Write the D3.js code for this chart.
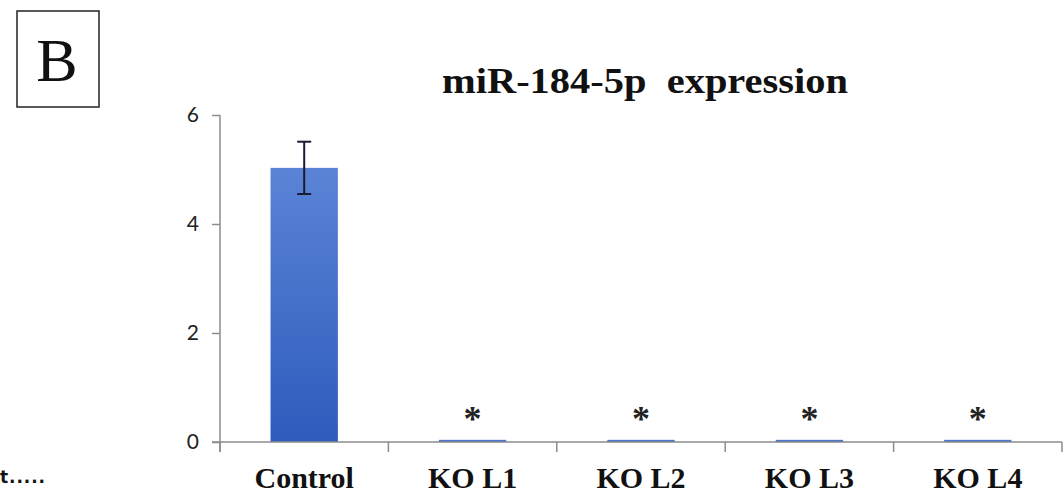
<!DOCTYPE html>
<html><head><meta charset="utf-8">
<script src="https://cdn.jsdelivr.net/npm/d3@7"></script>
<style>html,body{margin:0;padding:0;background:#fff;}svg{display:block;}</style>
</head><body>
<svg id="chart" width="1064" height="495"></svg>
<script>
const categories = ["Control", "KO L1", "KO L2", "KO L3", "KO L4"];
const values = [5.03, 0.04, 0.04, 0.04, 0.04];
const errors = [0.48, 0, 0, 0, 0];
const significance = ["", "*", "*", "*", "*"];
const yTicks = [0, 2, 4, 6];
const titleText = "miR-184-5p  expression";
const panelLabel = "B";

const svg = d3.select("#chart");
const x = d3.scaleBand().domain(categories).range([220, 1062]).paddingInner(0.6).paddingOuter(0.3);
const y = d3.scaleLinear().domain([0, 6]).range([442, 115]);

const defs = svg.append("defs");
const grad = defs.append("linearGradient").attr("id", "barGrad").attr("x1", 0).attr("x2", 0).attr("y1", 0).attr("y2", 1);
grad.append("stop").attr("offset", "0%").attr("stop-color", "#5b84d6");
grad.append("stop").attr("offset", "100%").attr("stop-color", "#2e5cbd");

// panel label
svg.append("rect").attr("x", 17).attr("y", 11).attr("width", 82).attr("height", 96)
  .attr("fill", "none").attr("stroke", "#222").attr("stroke-width", 1.5);
svg.append("text").attr("x", 57).attr("y", 81).attr("text-anchor", "middle")
  .attr("font-family", "Liberation Serif").attr("font-size", 62).attr("fill", "#111").text(panelLabel);

// stray text
svg.append("text").attr("x", 0).attr("y", 483).attr("font-family", "DejaVu Sans").attr("font-weight", "bold")
  .attr("font-size", 17).attr("fill", "#111")
  .attr("textLength", 45).attr("lengthAdjust", "spacing").text("t.....");

// title
svg.append("text").attr("x", 442).attr("y", 93)
  .attr("font-family", "Liberation Serif").attr("font-weight", "bold").attr("font-size", 36)
  .attr("textLength", 406).attr("lengthAdjust", "spacingAndGlyphs")
  .style("white-space", "pre").attr("fill", "#111").text(titleText);

// y axis
const yAxis = svg.append("g").attr("transform", "translate(220,0)")
  .call(d3.axisLeft(y).tickValues(yTicks).tickFormat(d3.format("d")).tickSize(8).tickPadding(13).tickSizeOuter(0));
yAxis.select(".domain").attr("stroke", "#8c8c8c").attr("stroke-width", 1.5).attr("d", "M0,115V452");
yAxis.selectAll(".tick line").attr("stroke", "#8c8c8c").attr("stroke-width", 1.5);
yAxis.selectAll(".tick text").attr("font-family", "Lato").attr("font-size", 21).attr("fill", "#222");

// bars
svg.append("g").selectAll("rect").data(categories).join("rect")
  .attr("x", d => x(d))
  .attr("y", (d, i) => y(values[i]))
  .attr("width", x.bandwidth())
  .attr("height", (d, i) => y(0) - y(values[i]))
  .attr("fill", "url(#barGrad)");

// x axis
const xAxisG = svg.append("g");
xAxisG.append("line").attr("x1", 212).attr("x2", 1062).attr("y1", y(0)).attr("y2", y(0))
  .attr("stroke", "#8c8c8c").attr("stroke-width", 1.5);
const edges = categories.map((c, i) => x.range()[0] + i * x.step()).concat([x.range()[1]]);
xAxisG.selectAll("line.tk").data(edges).join("line").attr("class", "tk")
  .attr("x1", d => d).attr("x2", d => d).attr("y1", y(0)).attr("y2", y(0) + 10)
  .attr("stroke", "#8c8c8c").attr("stroke-width", 1.5);
xAxisG.selectAll("text").data(categories).join("text")
  .attr("x", d => x(d) + x.bandwidth() / 2).attr("y", 488).attr("text-anchor", "middle")
  .attr("font-family", "Liberation Serif").attr("font-weight", "bold").attr("font-size", 30)
  .attr("fill", "#111").text(d => d);

// error bars
const eb = svg.append("g").attr("stroke", "#1a1a33").attr("stroke-width", 2);
categories.forEach((c, i) => {
  if (!errors[i]) return;
  const cx = x(c) + x.bandwidth() / 2;
  eb.append("line").attr("x1", cx).attr("x2", cx).attr("y1", y(values[i] + errors[i])).attr("y2", y(values[i] - errors[i]));
  eb.append("line").attr("x1", cx - 7).attr("x2", cx + 7).attr("y1", y(values[i] + errors[i])).attr("y2", y(values[i] + errors[i]));
  eb.append("line").attr("x1", cx - 7).attr("x2", cx + 7).attr("y1", y(values[i] - errors[i])).attr("y2", y(values[i] - errors[i]));
});

// significance stars
svg.append("g").selectAll("text").data(categories).join("text")
  .attr("x", d => x(d) + x.bandwidth() / 2).attr("y", (d, i) => y(values[i]) - 9)
  .attr("text-anchor", "middle").attr("font-family", "Liberation Serif").attr("font-weight", "bold").attr("font-size", 36)
  .attr("fill", "#222").text((d, i) => significance[i]);
</script>
</body></html>
